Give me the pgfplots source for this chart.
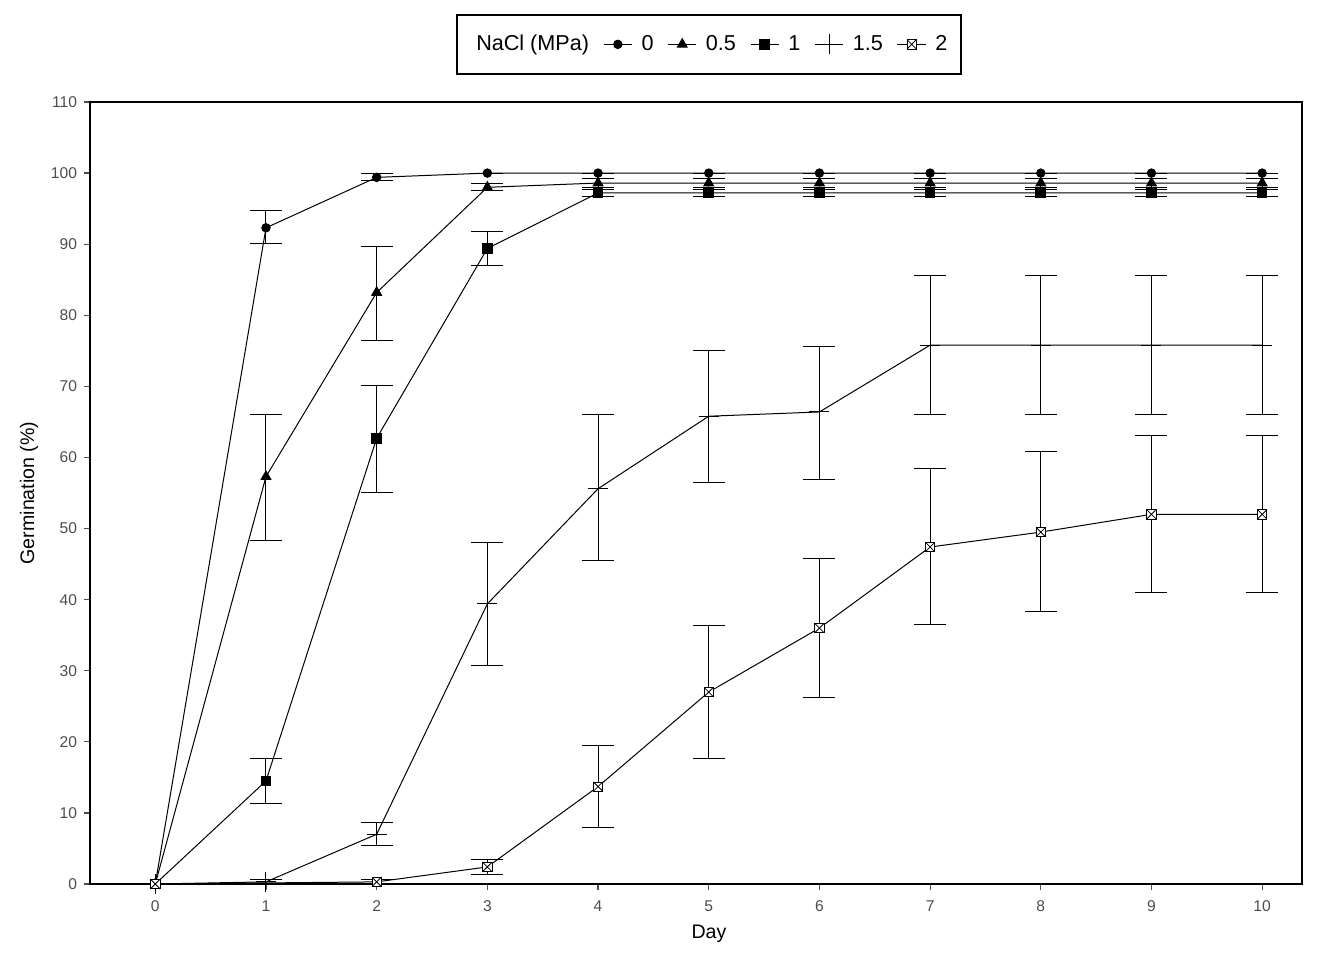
\documentclass[border=0pt]{standalone}
\usepackage{fontspec}
\setmainfont{Liberation Sans}
\usepackage{pgfplots}
\usepackage{pgfplotstable}
\pgfplotsset{compat=1.18}
\definecolor{tickgray}{HTML}{4D4D4D}
\pgfdeclareplotmark{boxx}{%
  \pgfpathrectangle{\pgfpoint{-\pgfplotmarksize}{-\pgfplotmarksize}}{\pgfpoint{2\pgfplotmarksize}{2\pgfplotmarksize}}%
  \pgfusepathqfillstroke
  \pgfpathmoveto{\pgfpoint{-\pgfplotmarksize}{-\pgfplotmarksize}}%
  \pgfpathlineto{\pgfpoint{\pgfplotmarksize}{\pgfplotmarksize}}%
  \pgfpathmoveto{\pgfpoint{-\pgfplotmarksize}{\pgfplotmarksize}}%
  \pgfpathlineto{\pgfpoint{\pgfplotmarksize}{-\pgfplotmarksize}}%
  \pgfusepathqstroke}

\pgfplotstableread{
x y ep em
0 0 0 0
1 92.3 2.5 2.2
2 99.4 0.5 0.5
3 100 0 0
4 100 0 0
5 100 0 0
6 100 0 0
7 100 0 0
8 100 0 0
9 100 0 0
10 100 0 0
}\sZero
\pgfplotstableread{
x y ep em
0 0 0 0
1 57.3 8.8 9.0
2 83.2 6.5 6.7
3 98.0 0.5 0.5
4 98.6 0.6 0.6
5 98.6 0.6 0.6
6 98.6 0.6 0.6
7 98.6 0.6 0.6
8 98.6 0.6 0.6
9 98.6 0.6 0.6
10 98.6 0.6 0.6
}\sHalf
\pgfplotstableread{
x y ep em
0 0 0 0
1 14.5 3.1 3.2
2 62.7 7.4 7.6
3 89.4 2.4 2.4
4 97.2 0.5 0.5
5 97.2 0.5 0.5
6 97.2 0.5 0.5
7 97.2 0.5 0.5
8 97.2 0.5 0.5
9 97.2 0.5 0.5
10 97.2 0.5 0.5
}\sOne
\pgfplotstableread{
x y ep em
0 0 0 0
1 0.3 0.3 0.3
2 7.0 1.7 1.6
3 39.4 8.6 8.6
4 55.6 10.4 10.1
5 65.8 9.3 9.3
6 66.4 9.2 9.5
7 75.8 9.8 9.7
8 75.8 9.8 9.7
9 75.8 9.8 9.7
10 75.8 9.8 9.7
}\sOneHalf
\pgfplotstableread{
x y ep em
0 0 0 0
2 0.3 0.3 0.3
3 2.4 1.1 1.1
4 13.7 5.8 5.8
5 27.0 9.3 9.4
6 36.0 9.8 9.7
7 47.4 11.0 10.9
8 49.5 11.3 11.2
9 52.0 11.1 11.0
10 52.0 11.1 11.0
}\sTwo

\begin{document}
\begin{tikzpicture}
\path[use as bounding box] (-45pt,-38pt) rectangle (627pt,442pt);
\begin{axis}[
  at={(0,0)}, anchor=south west,
  scale only axis,
  width=606pt, height=391pt,
  xmin=-0.59, xmax=10.36,
  ymin=0, ymax=110,
  xtick={0,1,...,10},
  ytick={0,10,...,110},
  xtick pos=left, ytick pos=left,
  tick align=outside,
  major tick length=3pt,
  tick style={tickgray, line width=0.6pt},
  axis line style={line width=0.6pt},
  ticklabel style={font=\fontsize{7.8}{9}\selectfont, text=tickgray},
  xticklabel style={yshift=-2pt},
  /pgf/number format/assume math mode=true,
  xlabel={Day},
  ylabel={Germination (\%)},
  label style={font=\fontsize{9.8}{11}\selectfont},
  xlabel style={yshift=0.5pt, xshift=6.5pt},
  ylabel style={yshift=-0.5pt},
  legend columns=-1,
  legend style={at={(0.511,1.1125)}, anchor=north, draw=black, line width=1pt,
    font=\fontsize{10.8}{12}\selectfont, inner xsep=5pt, inner ysep=8pt,
    /tikz/every odd column/.append style={column sep=2.5pt},
    /tikz/every even column/.append style={column sep=5pt}},
  legend image code/.code={%
    \draw[mark repeat=2,mark phase=2,line width=0.5pt] plot coordinates {(0cm,0cm) (0.25cm,0cm) (0.5cm,0cm)};},
  every axis plot/.append style={black, line width=0.5pt},
  error bars/error bar style={line width=0.5pt},
  error bars/error mark options={rotate=90, mark size=8pt, line width=0.5pt},
]
\addlegendimage{empty legend}
\addlegendentry{NaCl (MPa)}
\addplot[black, mark=*, mark size=2.1pt, mark options={fill=black}, error bars/.cd, y dir=both, y explicit]
  table[x=x, y=y, y error plus=ep, y error minus=em]{\sZero};
\addlegendentry{0}
\addplot[black, mark=triangle*, mark size=2.8pt, mark options={fill=black}, error bars/.cd, y dir=both, y explicit]
  table[x=x, y=y, y error plus=ep, y error minus=em]{\sHalf};
\addlegendentry{0.5}
\addplot[black, mark=square*, mark size=2.4pt, mark options={fill=black}, error bars/.cd, y dir=both, y explicit]
  table[x=x, y=y, y error plus=ep, y error minus=em]{\sOne};
\addlegendentry{1}
\addplot[black, mark=+, mark size=5pt, error bars/.cd, y dir=both, y explicit]
  table[x=x, y=y, y error plus=ep, y error minus=em]{\sOneHalf};
\addlegendentry{1.5}
\addplot[black, mark=boxx, mark size=2.3pt, mark options={fill=white, line width=0.4pt}, error bars/.cd, y dir=both, y explicit]
  table[x=x, y=y, y error plus=ep, y error minus=em]{\sTwo};
\addlegendentry{2}
\end{axis}
\end{tikzpicture}
\end{document}
